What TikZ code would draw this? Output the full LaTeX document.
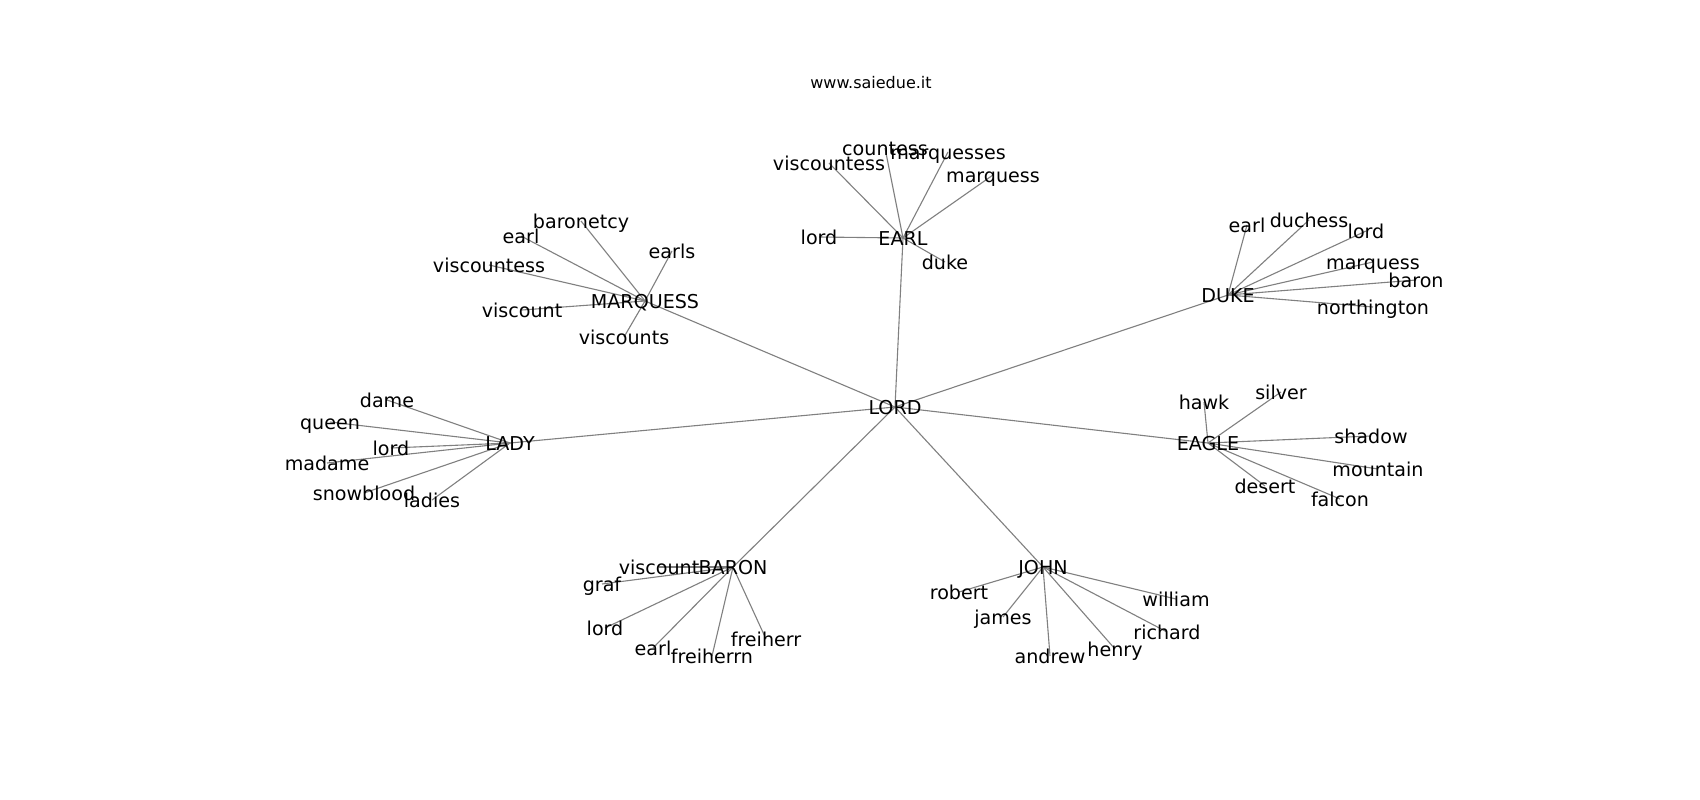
\documentclass[tikz,border=0pt]{standalone}
\usepackage{fontspec}
\setmainfont{DejaVu Sans}
\tikzset{
  lbl/.style={inner sep=0pt, outer sep=0pt, anchor=center, yshift=-3pt,
    font=\fontsize{19.1pt}{22pt}\selectfont, text height=14.5pt, text depth=4.6pt},
  ttl/.style={inner sep=0pt, outer sep=0pt, anchor=center,
    font=\fontsize{16pt}{19pt}\selectfont, text height=12.2pt, text depth=3.8pt},
  edge/.style={draw=black!50, line width=1.1pt}
}
\begin{document}
\begin{tikzpicture}[x=1pt,y=-1pt]
\useasboundingbox[fill=white] (0,0) rectangle (1700,800);
% coordinates of nodes
\coordinate (LORDp) at (895,407);
\coordinate (EARLp) at (903,238);
\coordinate (MARQp) at (645,301);
\coordinate (DUKEp) at (1228,295);
\coordinate (LADYp) at (510,443);
\coordinate (EAGLEp) at (1208,443);
\coordinate (BARONp) at (733,567);
\coordinate (JOHNp) at (1043,567);
% leaves
\coordinate (e1) at (819,237);
\coordinate (e2) at (829,163);
\coordinate (e3) at (885,148);
\coordinate (e4) at (948,152);
\coordinate (e5) at (993,175);
\coordinate (e6) at (945,262);
\coordinate (m1) at (581,221);
\coordinate (m2) at (521,236);
\coordinate (m3) at (672,251);
\coordinate (m4) at (489,265);
\coordinate (m5) at (522,310);
\coordinate (m6) at (624,337);
\coordinate (d1) at (1247,225);
\coordinate (d2) at (1309,220);
\coordinate (d3) at (1366,231);
\coordinate (d4) at (1373,262);
\coordinate (d5) at (1416,280);
\coordinate (d6) at (1373,307);
\coordinate (l1) at (387,400);
\coordinate (l2) at (330,422);
\coordinate (l3) at (391,448);
\coordinate (l4) at (327,463);
\coordinate (l5) at (364,493);
\coordinate (l6) at (432,500);
\coordinate (g1) at (1204,402);
\coordinate (g2) at (1281,392);
\coordinate (g3) at (1371,436);
\coordinate (g4) at (1378,469);
\coordinate (g5) at (1265,486);
\coordinate (g6) at (1340,499);
\coordinate (b1) at (659,567);
\coordinate (b2) at (602,584);
\coordinate (b3) at (605,628);
\coordinate (b4) at (653,648);
\coordinate (b5) at (712,656);
\coordinate (b6) at (766,639);
\coordinate (j1) at (959,592);
\coordinate (j2) at (1003,617);
\coordinate (j3) at (1050,656);
\coordinate (j4) at (1115,649);
\coordinate (j5) at (1167,632);
\coordinate (j6) at (1176,599);
% edges
\foreach \h in {EARLp,MARQp,DUKEp,LADYp,EAGLEp,BARONp,JOHNp}
  \draw[edge] (LORDp) -- (\h);
\foreach \c in {e1,e2,e3,e4,e5,e6} \draw[edge] (EARLp) -- (\c);
\foreach \c in {m1,m2,m3,m4,m5,m6} \draw[edge] (MARQp) -- (\c);
\foreach \c in {d1,d2,d3,d4,d5,d6} \draw[edge] (DUKEp) -- (\c);
\foreach \c in {l1,l2,l3,l4,l5,l6} \draw[edge] (LADYp) -- (\c);
\foreach \c in {g1,g2,g3,g4,g5,g6} \draw[edge] (EAGLEp) -- (\c);
\foreach \c in {b1,b2,b3,b4,b5,b6} \draw[edge] (BARONp) -- (\c);
\foreach \c in {j1,j2,j3,j4,j5,j6} \draw[edge] (JOHNp) -- (\c);
% labels
\node[ttl] (title) at (871,84) {www.saiedue.it};
\node[lbl] (LORD) at (LORDp) {LORD};
\node[lbl] (EARL) at (EARLp) {EARL};
\node[lbl] (MARQUESS) at (MARQp) {MARQUESS};
\node[lbl] (DUKE) at (DUKEp) {DUKE};
\node[lbl] (LADY) at (LADYp) {LADY};
\node[lbl] (EAGLE) at (EAGLEp) {EAGLE};
\node[lbl] (BARON) at (BARONp) {BARON};
\node[lbl] (JOHN) at (JOHNp) {JOHN};
\node[lbl] (te1) at (e1) {lord};
\node[lbl] (te2) at (e2) {viscountess};
\node[lbl] (te3) at (e3) {countess};
\node[lbl] (te4) at (e4) {marquesses};
\node[lbl] (te5) at (e5) {marquess};
\node[lbl] (te6) at (e6) {duke};
\node[lbl] (tm1) at (m1) {baronetcy};
\node[lbl] (tm2) at (m2) {earl};
\node[lbl] (tm3) at (m3) {earls};
\node[lbl] (tm4) at (m4) {viscountess};
\node[lbl] (tm5) at (m5) {viscount};
\node[lbl] (tm6) at (m6) {viscounts};
\node[lbl] (td1) at (d1) {earl};
\node[lbl] (td2) at (d2) {duchess};
\node[lbl] (td3) at (d3) {lord};
\node[lbl] (td4) at (d4) {marquess};
\node[lbl] (td5) at (d5) {baron};
\node[lbl] (td6) at (d6) {northington};
\node[lbl] (tl1) at (l1) {dame};
\node[lbl] (tl2) at (l2) {queen};
\node[lbl] (tl3) at (l3) {lord};
\node[lbl] (tl4) at (l4) {madame};
\node[lbl] (tl5) at (l5) {snowblood};
\node[lbl] (tl6) at (l6) {ladies};
\node[lbl] (tg1) at (g1) {hawk};
\node[lbl] (tg2) at (g2) {silver};
\node[lbl] (tg3) at (g3) {shadow};
\node[lbl] (tg4) at (g4) {mountain};
\node[lbl] (tg5) at (g5) {desert};
\node[lbl] (tg6) at (g6) {falcon};
\node[lbl] (tb1) at (b1) {viscount};
\node[lbl] (tb2) at (b2) {graf};
\node[lbl] (tb3) at (b3) {lord};
\node[lbl] (tb4) at (b4) {earl};
\node[lbl] (tb5) at (b5) {freiherrn};
\node[lbl] (tb6) at (b6) {freiherr};
\node[lbl] (tj1) at (j1) {robert};
\node[lbl] (tj2) at (j2) {james};
\node[lbl] (tj3) at (j3) {andrew};
\node[lbl] (tj4) at (j4) {henry};
\node[lbl] (tj5) at (j5) {richard};
\node[lbl] (tj6) at (j6) {william};
\end{tikzpicture}
\end{document}
